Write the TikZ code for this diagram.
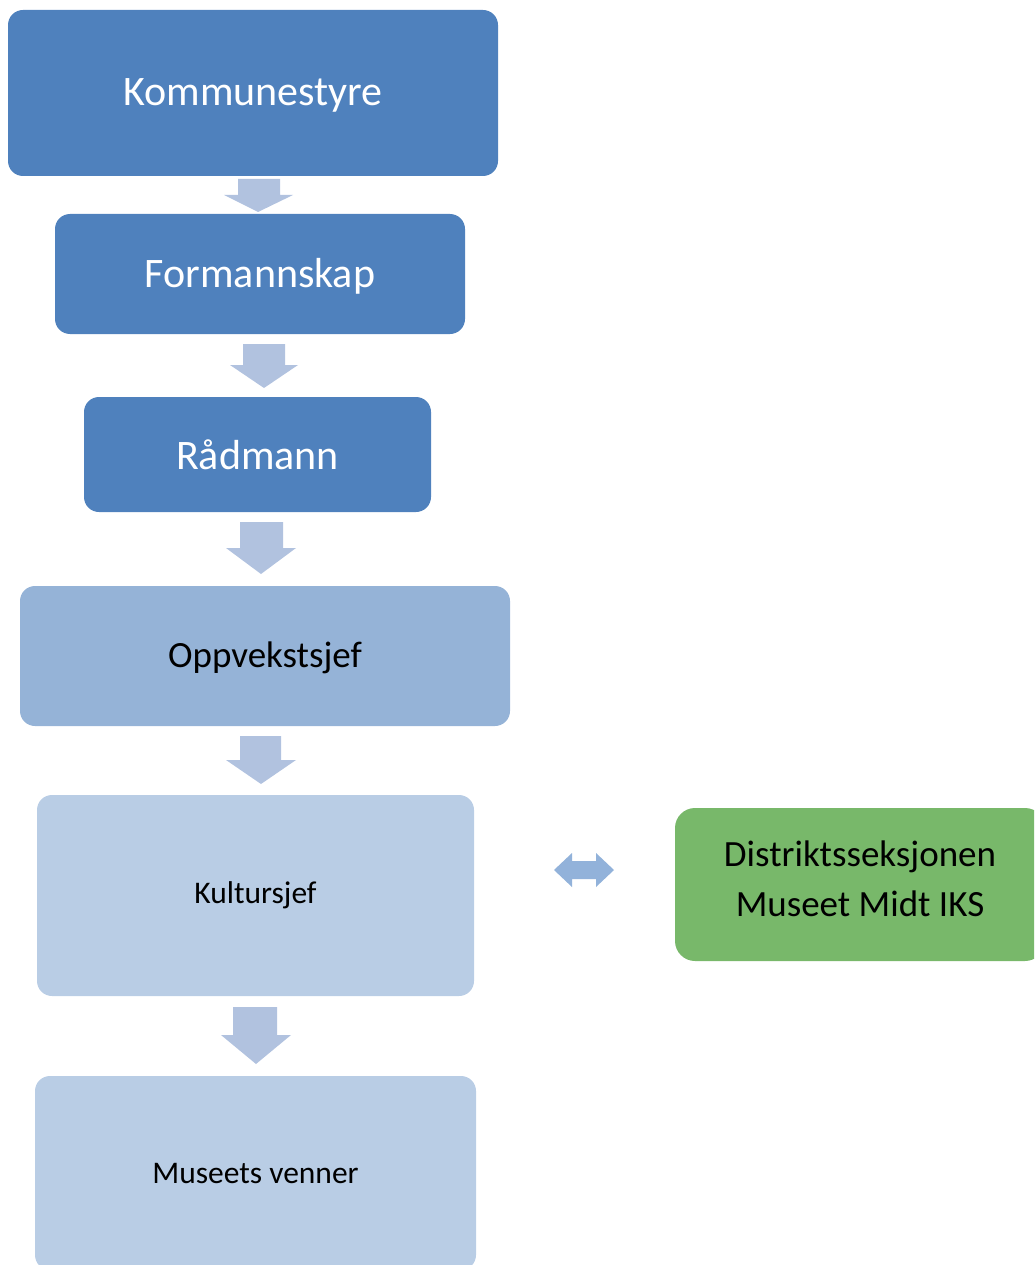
\documentclass[tikz,border=0pt]{standalone}
\usepackage{fontspec}
\setmainfont{Carlito}
\definecolor{darkblue}{HTML}{4F81BD}
\definecolor{midblue}{HTML}{95B3D7}
\definecolor{lightblue}{HTML}{B9CDE5}
\definecolor{greenbox}{HTML}{78B86A}
\definecolor{arrowblue}{HTML}{B1C2DF}
\definecolor{dblarrow}{HTML}{92B2DA}
\begin{document}
\begin{tikzpicture}[x=1pt,y=-1pt,
  box/.style={rounded corners=15pt, inner sep=0pt, align=center},
  bigtext/.style={font=\fontsize{42}{50}\selectfont},
  midtext/.style={font=\fontsize{37}{50}\selectfont},
  smalltext/.style={font=\fontsize{31.5}{38}\selectfont},
  downarrow/.style={fill=arrowblue, draw=none},
  sidearrow/.style={fill=dblarrow, draw=none}]
\clip (0,0) rectangle (1034,1265);
\useasboundingbox (0,0) rectangle (1034,1265);
% boxes
\node[box, bigtext, fill=darkblue, text=white, minimum width=490pt, minimum height=166pt] (kom) at (253,93) {};
\node[bigtext, text=white, align=center, yshift=-2pt] (komt) at (kom.center) {Kommunestyre};
\node[box, bigtext, fill=darkblue, text=white, minimum width=410pt, minimum height=120pt] (form) at (260,274) {};
\node[bigtext, text=white, align=center, yshift=-2pt] (formt) at (form.center) {Formannskap};
\node[box, bigtext, fill=darkblue, text=white, minimum width=347pt, minimum height=115pt] (rad) at (257.5,454.5) {Rådmann};
\node[box, midtext, fill=midblue, text=black, minimum width=490pt, minimum height=140pt] (opp) at (265,656) {};
\node[midtext, text=black, align=center, yshift=-2pt] (oppt) at (opp.center) {Oppvekstsjef};
\node[box, smalltext, fill=lightblue, text=black, minimum width=437pt, minimum height=201pt] (kul) at (255.5,895.5) {Kultursjef};
\node[box, smalltext, fill=lightblue, text=black, minimum width=441pt, minimum height=194pt] (mus) at (255.5,1173) {Museets venner};
\node[box, rounded corners=20pt, fill=greenbox, minimum width=370pt, minimum height=153pt] (dist) at (860,884.5) {};
\node[midtext, text=black, align=center, yshift=6pt] (distt) at (dist.center) {Distriktsseksjonen\\Museet Midt IKS};
% down arrows
\fill[downarrow] (238,179) -- (280,179) -- (280,195) -- (293,195) -- (258,212) -- (224,195) -- (238,195) -- cycle;
\fill[downarrow] (243,344) -- (285,344) -- (285,365) -- (298,365) -- (264,388) -- (230,365) -- (243,365) -- cycle;
\fill[downarrow] (240,522) -- (283,522) -- (283,548) -- (296,548) -- (261,574) -- (226,548) -- (240,548) -- cycle;
\fill[downarrow] (240,736) -- (281,736) -- (281,760) -- (296,760) -- (261,784) -- (226,760) -- (240,760) -- cycle;
\fill[downarrow] (233,1007) -- (277,1007) -- (277,1035) -- (291,1035) -- (256,1064) -- (221,1035) -- (233,1035) -- cycle;
% double arrow
\fill[sidearrow] (554,870) -- (572,853) -- (572,861) -- (596,861) -- (596,853) -- (614,870) -- (596,887) -- (596,879) -- (572,879) -- (572,887) -- cycle;
\end{tikzpicture}
\end{document}
